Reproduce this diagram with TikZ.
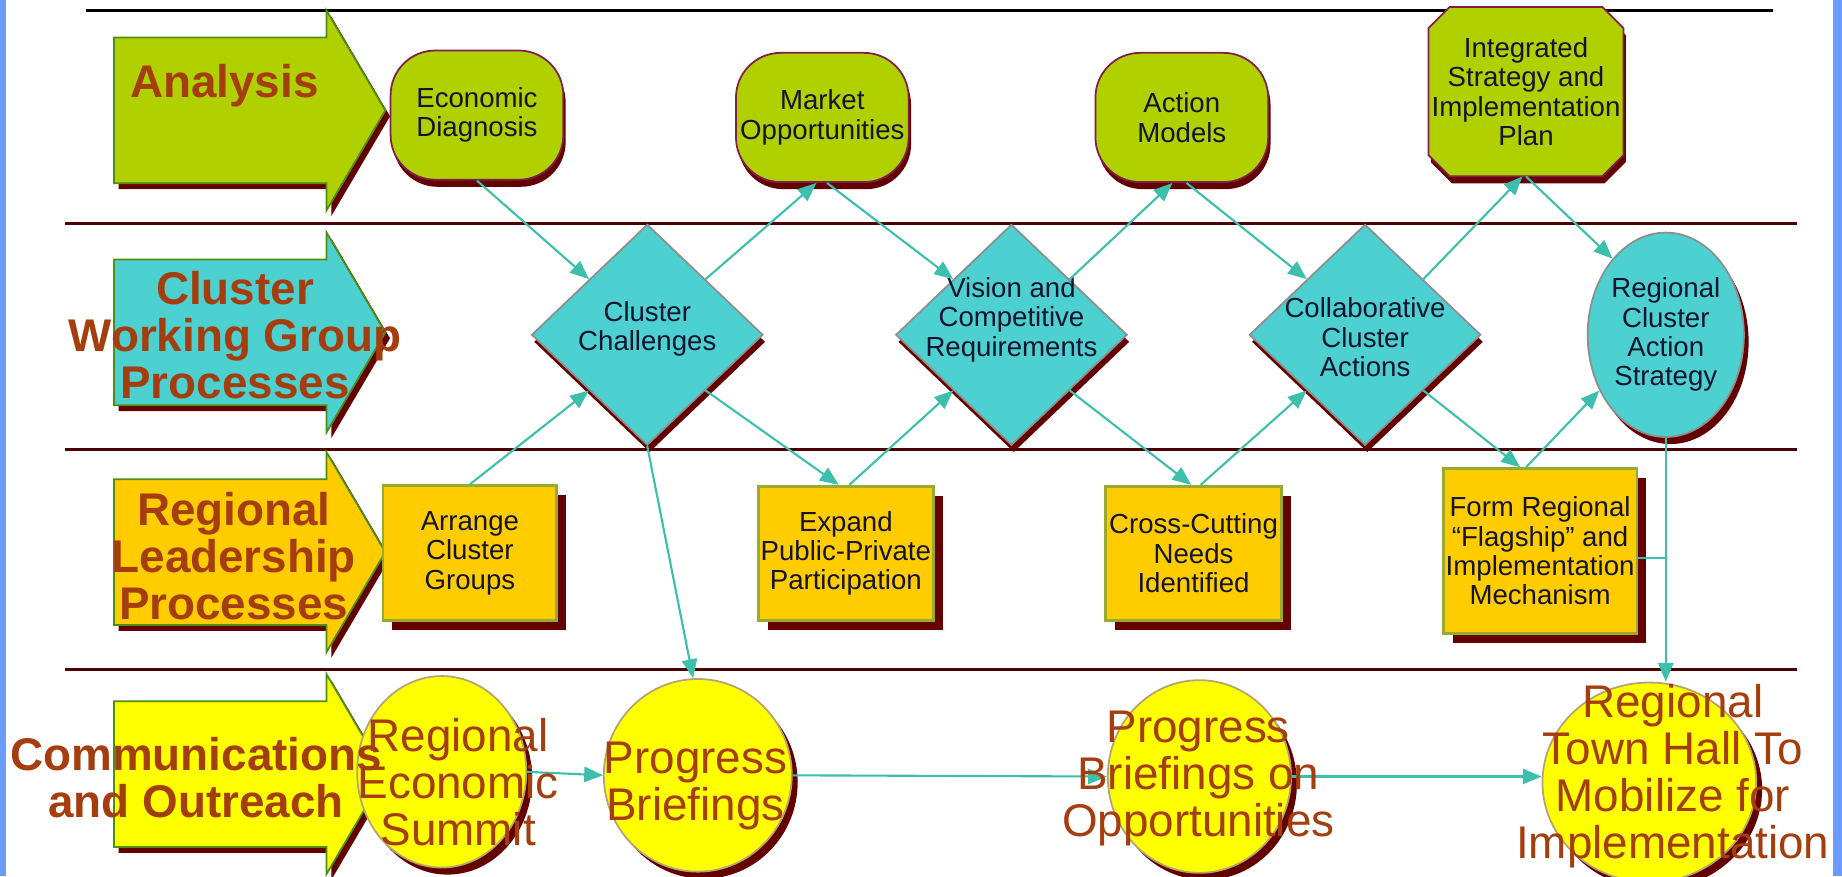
\documentclass[tikz,border=0pt]{standalone}
\usepackage{fontspec}
\setmainfont{Liberation Sans}
\usetikzlibrary{shapes.geometric,arrows.meta,calc,shadows}
\definecolor{bluebar}{HTML}{6B9BFF}
\definecolor{sepred}{HTML}{4D0000}
\definecolor{shred}{HTML}{640000}
\definecolor{angreen}{HTML}{B0D000}
\definecolor{cyanf}{HTML}{4DD0D0}
\definecolor{orangef}{HTML}{FFCC00}
\definecolor{yellowf}{HTML}{FFFF00}
\definecolor{lanedge}{HTML}{4E8E10}
\definecolor{rust}{HTML}{A53E0E}
\definecolor{ntext}{HTML}{14142E}
\definecolor{anborder}{HTML}{80204A}
\definecolor{dgray}{HTML}{8E8E8E}
\definecolor{boxedge}{HTML}{9AAA30}
\definecolor{circedge}{HTML}{B4A470}
\definecolor{tealc}{HTML}{3DBFAE}
\newcommand\lanearrow[2]{%
  \fill[shred] (101,{#1-57}) -- (282,{#1-57}) -- (282,{#1-80}) -- (332,{#1+5}) -- (282,{#1+90}) -- (282,{#1+67}) -- (101,{#1+67}) -- cycle;
  \filldraw[fill=#2, draw=lanedge, line width=1.5pt] (97,{#1-62}) -- (278,{#1-62}) -- (278,{#1-85}) -- (328,#1) -- (278,{#1+85}) -- (278,{#1+62}) -- (97,{#1+62}) -- cycle;
}
\tikzset{
  lanetxt/.style={text=rust, font=\fontsize{39}{40}\selectfont\bfseries, align=center, inner sep=0pt},
  ntxt/.style={text=ntext, font=\fontsize{23.5}{25}\selectfont, align=center},
  ctxt/.style={text=rust, font=\fontsize{39}{40}\selectfont, align=center, inner sep=0pt},
  anode/.style={ntxt, draw=anborder, line width=1.5pt, fill=angreen, rounded corners=38pt,
    minimum width=147pt, minimum height=110pt, inner sep=0pt,
    drop shadow={shadow xshift=2pt, shadow yshift=-6pt, fill=shred, opacity=1}},
  dnode/.style={diamond, draw=dgray, line width=1.5pt, fill=cyanf, inner sep=0pt,
    minimum width=197pt, minimum height=188pt,
    drop shadow={shadow xshift=2pt, shadow yshift=-6pt, fill=shred, opacity=1}},
  bnode/.style={ntxt, rectangle, draw=boxedge, line width=2.5pt, fill=orangef, inner sep=0pt,
    drop shadow={shadow xshift=8pt, shadow yshift=-8pt, fill=shred, opacity=1}},
  cnode/.style={ellipse, draw=circedge, line width=1.5pt, fill=yellowf, inner sep=0pt,
    drop shadow={shadow xshift=5pt, shadow yshift=-6pt, fill=shred, opacity=1}},
  conn/.style={draw=tealc, line width=1.8pt, -{Triangle[length=16pt,width=13pt]}},
  plainconn/.style={draw=tealc, line width=1.8pt}
}
\begin{document}
\begin{tikzpicture}[x=1pt,y=-1pt]
\useasboundingbox (0,0) rectangle (1568,746);
\fill[white] (0,0) rectangle (1568,746);
\fill[bluebar] (0,0) rectangle (5,746);
\fill[bluebar] (1560,0) rectangle (1568,746);
% lines
\draw[black, line width=2.5pt] (73,9) -- (1509,9);
\draw[sepred, line width=2.5pt] (55,190) -- (1530,190);
\draw[sepred, line width=2.5pt] (55,383) -- (1530,383);
\draw[sepred, line width=2.5pt] (55,570) -- (1530,570);
% lane arrows
\lanearrow{94}{angreen}
\lanearrow{283}{cyanf}
\lanearrow{470}{orangef}
\lanearrow{659}{yellowf}
% analysis row
\node[anode] (ed) at (406,98) {Economic\\Diagnosis};
\node[anode] (mo) at (700,100) {Market\\Opportunities};
\node[anode] (am) at (1006,100) {Action\\Models};
\fill[shred] (1236,12) -- (1366,12) -- (1384,30) -- (1384,138) -- (1366,156) -- (1236,156) -- (1218,138) -- (1218,30) -- cycle;
\filldraw[fill=angreen, draw=anborder, line width=1.5pt] (1234,6) -- (1364,6) -- (1382,24) -- (1382,132) -- (1364,150) -- (1234,150) -- (1216,132) -- (1216,24) -- cycle;
\node[ntxt, minimum width=166pt, minimum height=144pt, inner sep=0pt] (isp) at (1299,78) {Integrated\\Strategy and\\Implementation\\Plan};
% cluster row
\node[dnode] (cc) at (551,285) {};
\node[dnode] (vcr) at (861,285) {};
\node[dnode] (cca) at (1162,285) {};
\node[ntxt, ellipse, draw=dgray, line width=1.5pt, fill=cyanf, inner sep=0pt,
  minimum width=133pt, minimum height=174pt,
  drop shadow={shadow xshift=4pt, shadow yshift=-6pt, fill=shred, opacity=1}] (rcas) at (1418,285)
  {Regional\\Cluster\\Action\\Strategy};
\node[ntxt] (cct) at (551,280) {Cluster\\Challenges};
\node[ntxt] (vcrt) at (861,272) {Vision and\\Competitive\\Requirements};
\node[ntxt] (ccat) at (1162,287) {Collaborative\\Cluster\\Actions};
% leadership row
\node[bnode, minimum width=148pt, minimum height=115pt] (ag) at (400,471) {Arrange\\Cluster\\Groups};
\node[bnode, minimum width=149pt, minimum height=114pt] (ex) at (720,471) {Expand\\Public-Private\\Participation};
\node[bnode, minimum width=150pt, minimum height=114pt] (cn) at (1016,471) {Cross-Cutting\\Needs\\Identified};
\node[bnode, minimum width=165pt, minimum height=140pt] (fr) at (1311,469) {Form Regional\\“Flagship” and\\Implementation\\Mechanism};
% communications row
\node[cnode, minimum width=144pt, minimum height=163pt] (res) at (376,657) {};
\node[cnode, minimum width=160pt, minimum height=164pt] (pb) at (594,660) {};
\node[cnode, minimum width=156pt, minimum height=164pt] (pbo) at (1021,661) {};
\node[cnode, minimum width=182pt, minimum height=170pt] (rth) at (1404,666) {};
% connectors
\draw[conn] (ed.south) -- (cc.north west);
\draw[conn] (cc.north east) -- ([xshift=-5pt]mo.south);
\draw[conn] ([xshift=4pt]mo.south) -- (vcr.north west);
\draw[conn] (vcr.north east) -- ([xshift=-8pt]am.south);
\draw[conn] ([xshift=4pt]am.south) -- (cca.north west);
\draw[conn] (cca.north east) -- ([xshift=-3pt]isp.south);
\draw[conn] (isp.south) -- (rcas.125);
\draw[conn] (ag.north) -- (cc.south west);
\draw[conn] (cc.south east) -- ([xshift=-6pt]ex.north);
\draw[conn] ([xshift=3pt]ex.north) -- (vcr.south west);
\draw[conn] (vcr.south east) -- ([xshift=-2pt]cn.north);
\draw[conn] ([xshift=6pt]cn.north) -- (cca.south west);
\draw[conn] (cca.south east) -- ([xshift=-17pt]fr.north);
\draw[conn] ([xshift=-12pt]fr.north) -- (rcas.220);
\draw[conn] (cc.south) -- ([xshift=-4pt]pb.north);
\draw[conn] (rcas.south) -- (rcas.south |- rth.north);
\draw[plainconn] ([yshift=-6pt]fr.east) -- ([yshift=-6pt]fr.east -| rcas.south);
\draw[conn] (res.east) -- (pb.west);
\draw[conn] (pb.east) -- (pbo.west);
\draw[conn] (pbo.east) -- (pbo.east -| rth.west);
% texts in communication circles
\node[ctxt] (rest) at (390,666) {Regional\\Economic\\Summit};
\node[ctxt] (pbt) at (592,669) {Progress\\Briefings};
\node[ctxt] (pbot) at (1020,663) {Progress\\Briefings on\\Opportunities};
\node[ctxt] (rtht) at (1424,661) {Regional\\Town Hall To\\Mobilize for\\Implementation};
% lane labels
\node[lanetxt] (l1) at (191,73) {Analysis};
\node[lanetxt] (l2) at (200,285) {Cluster\\Working Group\\Processes};
\node[lanetxt] (l3) at (199,473) {Regional\\Leadership\\Processes};
\node[lanetxt] (l4) at (167,662) {Communications\\and Outreach};
\end{tikzpicture}
\end{document}
